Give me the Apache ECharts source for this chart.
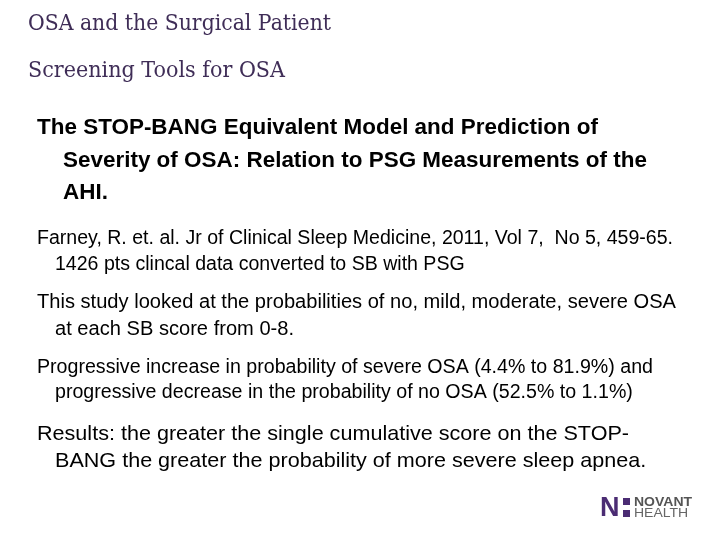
<!DOCTYPE html>
<html><head><meta charset="utf-8">
<script src="https://cdn.jsdelivr.net/npm/echarts@6/dist/echarts.min.js"></script>
<style>html,body{margin:0;padding:0;background:#fff}#c{width:720px;height:540px}</style>
</head><body><div id="c"></div>
<script>
// Slide text content
const slideTitles = ['OSA and the Surgical Patient', 'Screening Tools for OSA'];
const headingLines = ['The STOP-BANG Equivalent Model and Prediction of', 'Severity of OSA: Relation to PSG Measurements of the', 'AHI.'];
const citationLines = ['Farney, R. et. al. Jr of Clinical Sleep Medicine, 2011, Vol 7,  No 5, 459-65.', '1426 pts clincal data converted to SB with PSG'];
const studyLines = ['This study looked at the probabilities of no, mild, moderate, severe OSA', 'at each SB score from 0-8.'];
const trendLines = ['Progressive increase in probability of severe OSA (4.4% to 81.9%) and', 'progressive decrease in the probability of no OSA (52.5% to 1.1%)'];
const resultLines = ['Results: the greater the single cumulative score on the STOP-', 'BANG the greater the probability of more severe sleep apnea.'];
const logoWords = ['N', 'NOVANT', 'HEALTH'];

const ctx = document.createElement('canvas').getContext('2d');
function measure(text, size, family, weight) {
  ctx.font = (weight || 'normal') + ' ' + size + 'px ' + family;
  return ctx.measureText(text).width;
}

const SANS = '"Liberation Sans"';
const SERIF = '"DejaVu Serif"';
const blocks = [
  { lines: [slideTitles[0]], x: [28], y: [24], size: 22, family: SERIF, weight: 'normal', color: '#3f2d57', target: 303 },
  { lines: [slideTitles[1]], x: [28], y: [71], size: 22, family: SERIF, weight: 'normal', color: '#3f2d57', target: 257 },
  { lines: headingLines, x: [37, 63, 63], y: [128, 161, 193], size: 21.5, family: SANS, weight: 'bold', color: '#000', target: 561 },
  { lines: citationLines, x: [37, 55], y: [239, 265], size: 19.5, family: SANS, weight: 'normal', color: '#000', target: 636 },
  { lines: studyLines, x: [37, 55], y: [303, 330], size: 19.5, family: SANS, weight: 'normal', color: '#000', target: 639 },
  { lines: trendLines, x: [37, 55], y: [368, 393], size: 19.5, family: SANS, weight: 'normal', color: '#000', target: 616 },
  { lines: resultLines, x: [37, 55], y: [434, 461], size: 21, family: SANS, weight: 'normal', color: '#000', target: 592 }
];

const graphics = [];
blocks.forEach(function (b) {
  const sx = b.target / measure(b.lines[0], b.size, b.family, b.weight);
  b.lines.forEach(function (t, i) {
    graphics.push({
      type: 'text', x: b.x[i], y: b.y[i], scaleX: sx, scaleY: 1,
      style: { text: t, fontSize: b.size, fontFamily: b.family, fontWeight: b.weight, fill: b.color, align: 'left', verticalAlign: 'middle' }
    });
  });
});

// Logo
graphics.push({ type: 'text', x: 600, y: 509, scaleX: 1.0,
  style: { text: logoWords[0], fontSize: 27, fontFamily: SANS, fontWeight: 'bold', fill: '#4b2c73', align: 'left', verticalAlign: 'middle' } });
graphics.push({ type: 'rect', shape: { x: 623, y: 498, width: 7, height: 7 }, style: { fill: '#4b2c73' } });
graphics.push({ type: 'rect', shape: { x: 623, y: 510, width: 7, height: 7 }, style: { fill: '#4b2c73' } });
graphics.push({ type: 'text', x: 634, y: 503, scaleX: 1.12,
  style: { text: logoWords[1], fontSize: 12.5, fontFamily: SANS, fontWeight: 'bold', fill: '#555', align: 'left', verticalAlign: 'middle' } });
graphics.push({ type: 'text', x: 634, y: 514, scaleX: 1.12,
  style: { text: logoWords[2], fontSize: 12.5, fontFamily: SANS, fontWeight: 'normal', fill: '#666', align: 'left', verticalAlign: 'middle' } });

const chart = echarts.init(document.getElementById('c'), null, { renderer: 'canvas' });
chart.setOption({ backgroundColor: '#fff', animation: false, graphic: { elements: graphics } });
</script></body></html>
